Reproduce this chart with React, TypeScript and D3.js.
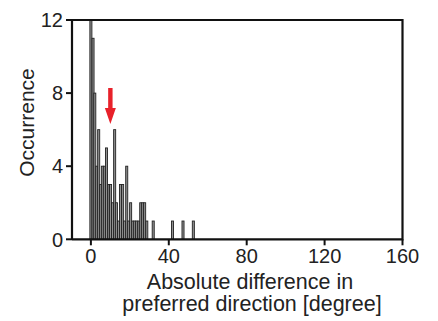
import React from "react";
import * as d3 from "d3";

// bin centres (degrees) and occurrences
const binCenters = [0,1.1,2,3,4,5,5.9,6.9,8,9.2,10.1,11.1,12.2,13.1,14.2,15.2,16.3,17.3,18.4,19.4,20.4,21.5,22.5,23.5,24.6,25.6,26.6,27.6,28.7,32,41.9,47.3,52.6];
const counts =     [12,11,8,4,6,3,4,4,5,3,3,2,6,2,1,3,3,1,4,1,2,1,1,1,1,2,2,2,1,1,1,1,1];
const xTicks = [0, 40, 80, 120, 160];
const yTicks = [0, 4, 8, 12];
const arrowAt = 10;

export default function App() {
  const W = 438, H = 321;
  const left = 72, right = 402.5, top = 20, bottom = 239.3;
  const x = d3.scaleLinear().domain([-9.7, 160]).range([left, right]);
  const y = d3.scaleLinear().domain([0, 12]).range([bottom, top]);
  const font = "'Liberation Sans', Arial, sans-serif";
  const ax = x(arrowAt);
  const bw = x(1.05) - x(0);
  return (
    <svg width={W} height={H} style={{ position: "absolute", left: 0, top: 0 }}>
      <rect width={W} height={H} fill="#fff" />
      {binCenters.map((b, i) => (
        <rect key={i} x={x(b) - bw / 2} y={y(counts[i])} width={bw} height={y(0) - y(counts[i])}
          fill="#909090" stroke="#222" strokeWidth={0.9} />
      ))}
      <path d={`M${left},${bottom}V${top}H${right}V${bottom}H${left}`} fill="none" stroke="#111" strokeWidth={2.2} />
      {yTicks.map(t => (
        <g key={t}>
          <line x1={left - 6} x2={left} y1={y(t)} y2={y(t)} stroke="#111" strokeWidth={2} />
          <text x={63} y={y(t)} dy="0.36em" textAnchor="end" fontFamily={font} fontSize={20} fill="#222">{t}</text>
        </g>
      ))}
      {xTicks.map(t => (
        <g key={t}>
          <line x1={x(t)} x2={x(t)} y1={bottom} y2={bottom + 6} stroke="#111" strokeWidth={2} />
          <text x={x(t)} y={263} textAnchor="middle" fontFamily={font} fontSize={20} fill="#222">{t}</text>
        </g>
      ))}
      <text x={250} y={288.5} textAnchor="middle" fontFamily={font} fontSize={21.5} fill="#222">Absolute difference in</text>
      <text x={252} y={311} textAnchor="middle" fontFamily={font} fontSize={21.5} fill="#222">preferred direction [degree]</text>
      <text transform={`translate(34,122.5) rotate(-90)`} textAnchor="middle" fontFamily={font} fontSize={21} fill="#222">Occurrence</text>
      <path d={`M${ax - 2.2},88 H${ax + 2.2} V108 H${ax + 5.5} L${ax},124 L${ax - 5.5},108 H${ax - 2.2} Z`} fill="#e8212a" />
    </svg>
  );
}
